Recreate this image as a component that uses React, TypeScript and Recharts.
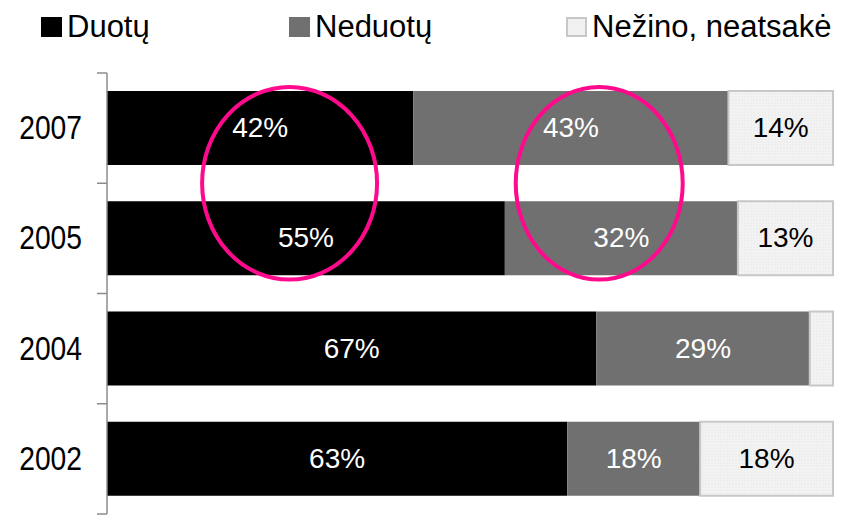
import React from 'react';
import { BarChart, Bar, XAxis, YAxis, LabelList, ReferenceArea } from 'recharts';

const years = ['2007', '2005', '2004', '2002'];
const duotu = [42.2, 54.8, 67.4, 63.4];
const neduotu = [43.4, 32.1, 29.4, 18.3];
const nezino = [14.4, 13.1, 3.2, 18.3];

const seriesNames = ['Duotų', 'Neduotų', 'Nežino, neatsakė'];

// highlighted regions (value ranges)
const circleDuotu = [13.1, 37.2];
const circleNeduotu = [56.3, 79.3];

const FONT = '"Liberation Sans", Arial, Helvetica, sans-serif';
const BAND = 110.25;
const PINK = '#ff0a8c';
const GREY = '#707070';
const LIGHT_STROKE = '#c8c8c8';

const data = years.map((year, i) => ({
  year,
  duotu: duotu[i],
  neduotu: neduotu[i],
  nezino: nezino[i],
}));

function YearTick({ x, y, payload, index }: any) {
  return (
    <g>
      <text
        transform={`translate(${x - 25},${y + 11}) scale(0.83,1)`}
        textAnchor="end"
        fontSize={34}
        fontFamily={FONT}
        fill="#000"
      >
        {payload.value}
      </text>
      <line x1={x - 10} x2={x} y1={y - BAND / 2} y2={y - BAND / 2} stroke="#8c8c8c" strokeWidth={1.5} />
      {index === years.length - 1 && (
        <line x1={x - 10} x2={x} y1={y + BAND / 2} y2={y + BAND / 2} stroke="#8c8c8c" strokeWidth={1.5} />
      )}
    </g>
  );
}

function makeLabel(color: string) {
  return (props: any) => {
    const { x, y, width, height, value } = props;
    if (value < 5) return null;
    return (
      <text
        x={x + width / 2}
        y={y + height / 2 + 9}
        textAnchor="middle"
        fontSize={28}
        fontFamily={FONT}
        fill={color}
      >
        {Math.round(value)}%
      </text>
    );
  };
}

function Ellipse(props: any) {
  const { x, y, width, height } = props;
  return (
    <ellipse
      cx={x + width / 2}
      cy={y + height / 2}
      rx={width / 2}
      ry={height * 0.437}
      fill="none"
      stroke={PINK}
      strokeWidth={4}
    />
  );
}

const legendItems = [
  { name: seriesNames[0], left: 41, swatch: { background: '#000' } },
  { name: seriesNames[1], left: 289, swatch: { background: GREY } },
  {
    name: seriesNames[2],
    left: 566,
    swatch: { background: '#f0f0f0', border: `2px solid ${LIGHT_STROKE}`, boxSizing: 'border-box' as const },
  },
];

function ChartLegend() {
  return (
    <div style={{ position: 'absolute', left: 0, top: 0, width: 846, height: 50 }}>
      {legendItems.map((it) => (
        <div
          key={it.name}
          style={{ position: 'absolute', left: it.left, top: 11, display: 'flex', alignItems: 'center' }}
        >
          <div style={{ width: 21, height: 20, marginRight: 5, ...it.swatch }} />
          <span style={{ fontSize: 31, lineHeight: 1, fontFamily: FONT, color: '#000' }}>{it.name}</span>
        </div>
      ))}
    </div>
  );
}

export default function App() {
  return (
    <div style={{ position: 'absolute', left: 0, top: 0, width: 846, height: 515, background: '#fff' }}>
      <BarChart
        width={846}
        height={515}
        data={data}
        layout="vertical"
        margin={{ top: 73, right: 13, bottom: 1, left: 0 }}
        barSize={74}
      >
        <defs>
          <pattern id="dots" width="3" height="3" patternUnits="userSpaceOnUse">
            <rect width="3" height="3" fill="#f3f3f3" />
            <circle cx="1" cy="1" r="0.6" fill="#dedede" />
          </pattern>
        </defs>
        <XAxis type="number" domain={[0, 100]} hide />
        <YAxis
          type="category"
          dataKey="year"
          width={107}
          axisLine={{ stroke: '#8c8c8c', strokeWidth: 1.5 }}
          tickLine={false}
          tickSize={0}
          tickMargin={0}
          tick={<YearTick />}
        />
        <Bar dataKey="duotu" name={seriesNames[0]} stackId="a" fill="#000" isAnimationActive={false}>
          <LabelList dataKey="duotu" content={makeLabel('#fff')} />
        </Bar>
        <Bar dataKey="neduotu" name={seriesNames[1]} stackId="a" fill={GREY} isAnimationActive={false}>
          <LabelList dataKey="neduotu" content={makeLabel('#fff')} />
        </Bar>
        <Bar
          dataKey="nezino"
          name={seriesNames[2]}
          stackId="a"
          fill="url(#dots)"
          stroke={LIGHT_STROKE}
          strokeWidth={2}
          isAnimationActive={false}
        >
          <LabelList dataKey="nezino" content={makeLabel('#000')} />
        </Bar>
        <ReferenceArea
          x1={circleDuotu[0]}
          x2={circleDuotu[1]}
          y1="2007"
          y2="2005"
          ifOverflow="visible"
          zIndex={1500}
          shape={<Ellipse />}
        />
        <ReferenceArea
          x1={circleNeduotu[0]}
          x2={circleNeduotu[1]}
          y1="2007"
          y2="2005"
          ifOverflow="visible"
          zIndex={1500}
          shape={<Ellipse />}
        />
      </BarChart>
      <ChartLegend />
    </div>
  );
}
